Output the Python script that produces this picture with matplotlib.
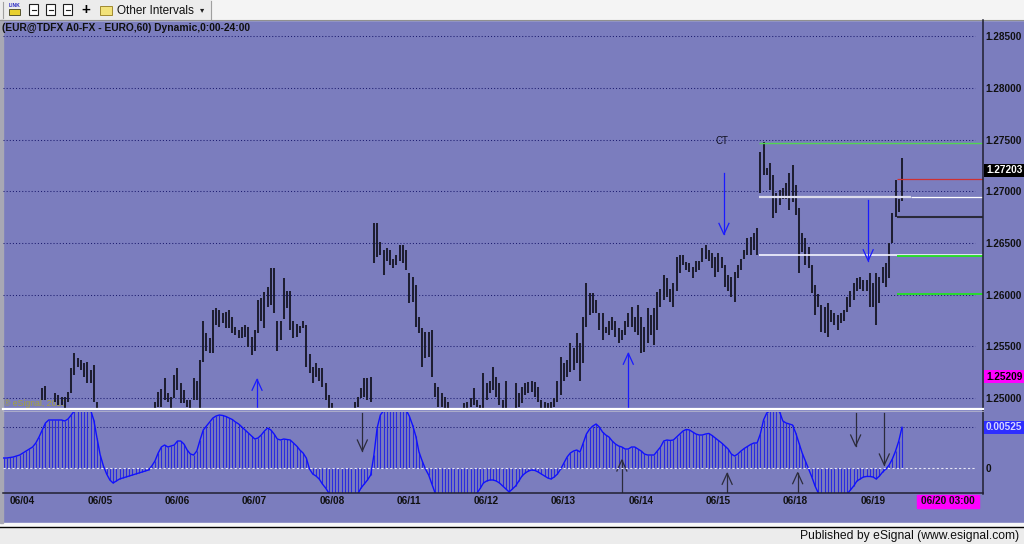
import matplotlib
matplotlib.use('Agg')
import matplotlib.pyplot as plt
from matplotlib.patches import Rectangle
from matplotlib.transforms import blended_transform_factory
import numpy as np

plt.rcParams['font.family'] = ['Liberation Sans', 'DejaVu Sans']

# ---- data: hourly EUR bars, prices in pips above 1.2000 ----
highs_pip = [
    486, 488, 485, 487, 484, 486, 488, 487, 489, 488,
    489, 489, 510, 512, 488, 489, 505, 503, 501, 501,
    506, 529, 544, 539, 537, 534, 535, 527, 532, 496,
    488, 485, 482, 480, 478, 481, 483, 482, 484, 483,
    485, 484, 486, 487, 486, 488, 489, 496, 506, 509,
    519, 505, 501, 522, 529, 515, 508, 498, 498, 519,
    517, 537, 575, 563, 558, 585, 587, 585, 582, 583,
    585, 578, 569, 566, 569, 571, 569, 559, 566, 595,
    597, 603, 607, 626, 626, 575, 575, 616, 604, 604,
    575, 572, 570, 575, 571, 543, 530, 534, 529, 529,
    515, 503, 495, 488, 484, 481, 479, 482, 486, 496,
    501, 510, 519, 519, 520, 669, 669, 651, 643, 645,
    643, 635, 638, 648, 648, 643, 621, 617, 609, 578,
    568, 564, 564, 566, 515, 511, 505, 501, 496, 487,
    485, 484, 486, 495, 496, 500, 510, 498, 493, 524,
    515, 517, 530, 520, 515, 498, 517, 488, 487, 515,
    505, 511, 515, 516, 517, 516, 511, 498, 496, 495,
    496, 500, 517, 540, 534, 537, 553, 548, 563, 553,
    578, 611, 602, 602, 595, 582, 582, 569, 575, 578,
    575, 568, 566, 575, 582, 588, 578, 590, 578, 569,
    587, 580, 587, 603, 606, 619, 616, 606, 611, 636,
    638, 638, 632, 631, 627, 633, 633, 645, 648, 643,
    640, 636, 640, 636, 629, 619, 617, 622, 629, 635,
    643, 655, 656, 660, 665, 738, 748, 723, 727, 716,
    698, 701, 703, 708, 718, 725, 706, 684, 660, 655,
    646, 629, 609, 601, 590, 588, 592, 585, 582, 580,
    582, 585, 598, 604, 611, 616, 617, 614, 614, 621,
    611, 621, 617, 627, 631, 650, 679, 711, 693, 732,
]
lows_pip = [
    474, 476, 472, 475, 470, 474, 477, 476, 478, 477,
    479, 479, 498, 498, 478, 480, 496, 493, 493, 489,
    496, 505, 522, 530, 527, 520, 515, 515, 496, 487,
    474, 470, 466, 463, 462, 466, 469, 468, 471, 470,
    472, 471, 474, 475, 473, 476, 478, 490, 491, 491,
    498, 496, 488, 500, 508, 495, 495, 491, 488, 498,
    498, 488, 535, 546, 544, 544, 571, 569, 573, 568,
    568, 563, 561, 558, 558, 559, 549, 542, 546, 563,
    575, 568, 588, 590, 582, 546, 556, 577, 587, 566,
    558, 559, 563, 568, 530, 524, 515, 520, 517, 511,
    498, 489, 485, 472, 466, 462, 460, 464, 470, 485,
    491, 500, 501, 498, 496, 631, 636, 638, 619, 633,
    629, 626, 629, 633, 631, 624, 592, 593, 569, 563,
    530, 539, 540, 520, 501, 491, 491, 489, 486, 474,
    470, 469, 473, 488, 488, 491, 493, 491, 486, 490,
    498, 505, 508, 501, 493, 490, 490, 478, 476, 490,
    491, 495, 503, 505, 506, 501, 496, 490, 490, 489,
    489, 491, 496, 503, 517, 520, 525, 527, 534, 517,
    534, 569, 580, 582, 582, 566, 556, 563, 561, 566,
    559, 553, 556, 561, 569, 569, 564, 561, 544, 545,
    553, 561, 551, 566, 588, 595, 598, 593, 588, 604,
    621, 629, 624, 622, 616, 622, 624, 632, 635, 633,
    626, 617, 622, 626, 607, 604, 598, 593, 616, 624,
    635, 638, 638, 643, 638, 698, 716, 716, 701, 674,
    679, 687, 693, 693, 682, 690, 677, 621, 641, 629,
    626, 602, 580, 588, 564, 563, 559, 574, 571, 566,
    573, 575, 583, 588, 595, 604, 606, 604, 604, 588,
    588, 571, 592, 611, 607, 616, 650, 675, 680, 691,
]
# oscillator, units of 1e-5
osc_e5 = [
    126, 126, 133, 139, 152, 165, 191, 217, 243, 269,
    321, 399, 490, 581, 620, 620, 620, 620, 620, 607,
    633, 685, 740, 760, 770, 775, 770, 750, 620, 386,
    165, 22, -82, -160, -199, -173, -147, -134, -121, -108,
    -95, -82, -69, -56, -43, -30, 22, 87, 191, 269,
    295, 269, 282, 295, 347, 347, 308, 230, 178, 165,
    217, 360, 490, 542, 594, 646, 672, 685, 679, 666,
    646, 627, 594, 568, 529, 490, 451, 412, 373, 386,
    425, 477, 516, 490, 438, 373, 360, 373, 367, 360,
    321, 282, 230, 191, 126, -17, -82, -108, -147, -212,
    -264, -329, -360, -390, -410, -420, -420, -410, -390, -360,
    -340, -264, -212, -160, -95, 165, 516, 685, 740, 780,
    810, 830, 840, 830, 800, 750, 670, 555, 412, 204,
    87, -17, -95, -212, -329, -380, -420, -450, -470, -480,
    -480, -470, -460, -440, -420, -400, -380, -330, -270, -199,
    -173, -160, -160, -173, -199, -238, -277, -316, -277, -238,
    -173, -108, -69, -43, -30, -36, -56, -82, -108, -134,
    -147, -121, -82, -17, 61, 139, 191, 217, 230, 204,
    321, 438, 503, 542, 568, 529, 464, 425, 399, 347,
    308, 282, 269, 243, 243, 269, 269, 243, 217, 178,
    165, 165, 165, 217, 269, 347, 360, 354, 360, 399,
    438, 477, 497, 490, 464, 438, 425, 425, 438, 445,
    419, 386, 354, 321, 282, 243, 178, 152, 178, 217,
    250, 276, 302, 321, 321, 438, 620, 711, 740, 750,
    745, 725, 607, 581, 568, 555, 451, 321, 191, 87,
    -17, -121, -238, -329, -370, -410, -430, -440, -440, -430,
    -410, -380, -340, -290, -238, -173, -147, -121, -114, -114,
    -121, -147, -108, -56, -17, 35, 113, 217, 347, 525,
]

day_labels = ['06/04', '06/05', '06/06', '06/07', '06/08', '06/11',
              '06/12', '06/13', '06/14', '06/15', '06/18', '06/19']
first_midnight = 2      # bar index of 06/04 00:00
bars_per_day = 24
price_ticks = [1.250, 1.255, 1.260, 1.265, 1.270, 1.275, 1.280, 1.285]
last_close = 1.27203
other_value = 1.25209
osc_last = 0.00525

# support/resistance levels: (first bar, price, colour, width)
levels = [
    (234.6, 1.27467, '#52d452', 1.0),
    (277.5, 1.27116, '#d03030', 0.9),
    (277.5, 1.26749, '#2a2a3a', 1.5),
    (234.6, 1.26387, '#f4f4ff', 1.2),
    (277.5, 1.26371, '#22e022', 1.3),
    (277.5, 1.26007, '#22e022', 1.3),
]
# arrows: (bar, tail, tip)
price_arrows = [(223.7, 1.27177, 1.26584), (268.5, 1.26916, 1.26329),
                (78.7, 1.2490, 1.25182), (194.0, 1.2490, 1.25434)]
osc_arrows = [(111.4, 0.0071, 0.00217), (264.6, 0.0071, 0.00282),
              (273.5, 0.0071, 0.00035), (192.0, -0.0034, 0.0010),
              (224.7, -0.0034, -0.00073), (246.6, -0.0034, -0.00065)]

high = 1.2 + np.array(highs_pip) / 10000.0
low = 1.2 + np.array(lows_pip) / 10000.0
osc = np.array(osc_e5) / 1e5
idx = np.arange(len(high))

BG = '#7b7dbe'
DOT = '#1c1c70'
W, H = 1024, 544
XL = (-0.19, 304.0)

fig = plt.figure(figsize=(W / 100, H / 100), dpi=100, facecolor=BG)

chrome = fig.add_axes([0, 0, 1, 1], zorder=0)
chrome.set_xlim(0, W)
chrome.set_ylim(H, 0)
chrome.axis('off')

# toolbar
chrome.add_patch(Rectangle((0, 0), W, 20, color='#f4f4f4'))
chrome.add_patch(Rectangle((0, 0), 211, 20, color='#ececec'))
chrome.plot([0, W], [20, 20], color='#909090', lw=0.8)
chrome.plot([211, 211], [1, 19], color='#a0a0a0', lw=0.8)
chrome.plot([3, 3], [2, 18], color='#a0a0a0', lw=0.8)
chrome.text(14.5, 5.5, 'LINK', fontsize=3.6, color='#2020c0', ha='center', va='center', weight='bold')
chrome.add_patch(Rectangle((9, 9), 11, 6, fc='#e8d030', ec='#404020', lw=0.6))
for x0 in [29, 46, 63]:
    chrome.add_patch(Rectangle((x0, 4), 9, 11, fc='white', ec='#202020', lw=0.8))
    chrome.plot([x0 + 2.5, x0 + 6.5], [9.5, 9.5], color='#202020', lw=0.8)
chrome.text(86, 10, '+', fontsize=11, weight='bold', ha='center', va='center')
chrome.add_patch(Rectangle((100, 6), 12, 9, fc='#f2e27a', ec='#a08a30', lw=0.7))
chrome.text(117, 10.5, 'Other Intervals', fontsize=8.5, va='center', color='#101010')
chrome.text(202, 11, '\u25be', fontsize=6, va='center', ha='center', color='#202020')

# status bar
chrome.add_patch(Rectangle((0, 523), W, 4, color='#f8f8f8'))
chrome.add_patch(Rectangle((0, 527.5), W, 17, color='#ececec'))
chrome.plot([0, W], [527.3, 527.3], color='black', lw=1.0)
chrome.text(1019, 535.5, 'Published by eSignal (www.esignal.com)', fontsize=8.7,
            ha='right', va='center', color='#101010')
chrome.add_patch(Rectangle((0, 20), 2.5, 503, color='#a8a8b4'))

chrome.text(2, 28, '(EUR@TDFX A0-FX - EURO,60) Dynamic,0:00-24:00', fontsize=7.4,
            weight='bold', va='center', color='#101010')
chrome.text(4, 403.5, '\u00ae eSignal, 2010', fontsize=6.2, va='center', color='#a6a33c')


def px_axes(x0, y0, x1, y1):
    a = fig.add_axes([x0 / W, 1 - y1 / H, (x1 - x0) / W, (y1 - y0) / H], zorder=2)
    a.patch.set_visible(False)
    for s in a.spines.values():
        s.set_visible(False)
    a.set_xlim(*XL)
    return a


def arrow(a, i, tail, tip, dx, dy, color):
    s = 1 if tail > tip else -1
    a.plot([i, i], [tail, tip], color=color, lw=0.9)
    a.plot([i - dx, i, i + dx], [tip + s * dy, tip, tip + s * dy], color=color, lw=0.9)


grid_end = (975 - 3) / 979.5

# ---- price panel ----
ax = px_axes(3, 20, 982.5, 408)
ax.set_ylim(1.249046, 1.286566)
for p in price_ticks:
    ax.axhline(p, xmax=grid_end, color=DOT, lw=0.75, ls=(0, (1, 2)))
ax.vlines(idx, low, high, color='#1e1e32', lw=1.45)
for start, price, col, lw in levels:
    ax.hlines(price, start, XL[1], color=col, lw=lw)
ax.hlines(1.26948, 234.6, 281.8, color='#dcdcec', lw=1.6)
ax.hlines(1.26948, 281.8, XL[1], color='white', lw=0.9)
for i, t0, t1 in price_arrows:
    arrow(ax, i, t0, t1, 1.55, 0.00106, '#1a1aff')
ax.text(221, 1.27484, 'CT', fontsize=7, va='center', color='#101020')

ax.set_xticks([])
ax.yaxis.tick_right()
ax.set_yticks(price_ticks)
ax.set_yticklabels(['%.5f' % p for p in price_ticks])
ax.tick_params(axis='y', length=0, pad=2.2, labelsize=7.2, labelcolor='#101010')
for lbl in ax.get_yticklabels():
    lbl.set_fontweight('bold')

tr = blended_transform_factory(ax.transAxes, ax.transData)
ax.text(1.0035, last_close, '%.5f' % last_close, transform=tr, fontsize=7.2, weight='bold',
        color='white', va='center', ha='left',
        bbox=dict(boxstyle='square,pad=0.18', fc='black', ec='none'))
ax.text(1.0035, other_value, '%.5f' % other_value, transform=tr, fontsize=7.2, weight='bold',
        color='black', va='center', ha='left',
        bbox=dict(boxstyle='square,pad=0.18', fc='#ff00ff', ec='none'))

# ---- oscillator panel ----
ax2 = px_axes(3, 412, 982.5, 493)
ax2.set_ylim(-0.00329, 0.00724)
ax2.axhline(osc_last, xmax=grid_end, color=DOT, lw=0.75, ls=(0, (1, 2)))
ax2.vlines(idx, 0, osc, color='#2b2be0', lw=0.8)
ax2.plot(idx, osc, color='#1010ff', lw=1.0)
ax2.axhline(0, xmax=grid_end, color='#e6e6f6', lw=0.8, ls=(0, (2, 2)), zorder=3)
for i, t0, t1 in osc_arrows:
    arrow(ax2, i, t0, t1, 1.55, 0.00143, '#2c2c3c')

ax2.yaxis.tick_right()
ax2.set_yticks([0])
ax2.set_yticklabels(['0'])
ax2.tick_params(axis='y', length=0, pad=2.2, labelsize=7.2, labelcolor='#101010')
ax2.set_xticks([first_midnight + bars_per_day * k for k in range(len(day_labels))])
ax2.set_xticklabels(day_labels)
ax2.tick_params(axis='x', length=0, pad=2.5, labelsize=7.2, labelcolor='#101010')
for lbl in ax2.get_xticklabels() + ax2.get_yticklabels():
    lbl.set_fontweight('bold')
for lbl in ax2.get_xticklabels():
    lbl.set_horizontalalignment('left')
tr2 = blended_transform_factory(ax2.transAxes, ax2.transData)
ax2.text(1.0035, osc_last, '%.5f' % osc_last, transform=tr2, fontsize=7.2, weight='bold',
         color='#d4d4ff', va='center', ha='left',
         bbox=dict(boxstyle='square,pad=0.18', fc='#2e2eff', ec='none'))

# ---- frame lines over the panels ----
over = fig.add_axes([0, 0, 1, 1], zorder=5)
over.set_xlim(0, W)
over.set_ylim(H, 0)
over.axis('off')
over.plot([982.7, 982.7], [20, 493.5], color='#202030', lw=1.1)
over.plot([3, 982.7], [493.3, 493.3], color='#202030', lw=1.1)
over.plot([3, 982.7], [409.4, 409.4], color='white', lw=1.6)
over.plot([3, 982.7], [411.2, 411.2], color='#b4b4cc', lw=0.6)
over.add_patch(Rectangle((917, 495), 62, 12.5, color='#ff00ff'))
over.text(948, 501.5, '06/20 03:00', fontsize=7.2, weight='bold', ha='center', va='center',
          color='#101010')

fig.savefig('out.png', dpi=100, facecolor=BG)
